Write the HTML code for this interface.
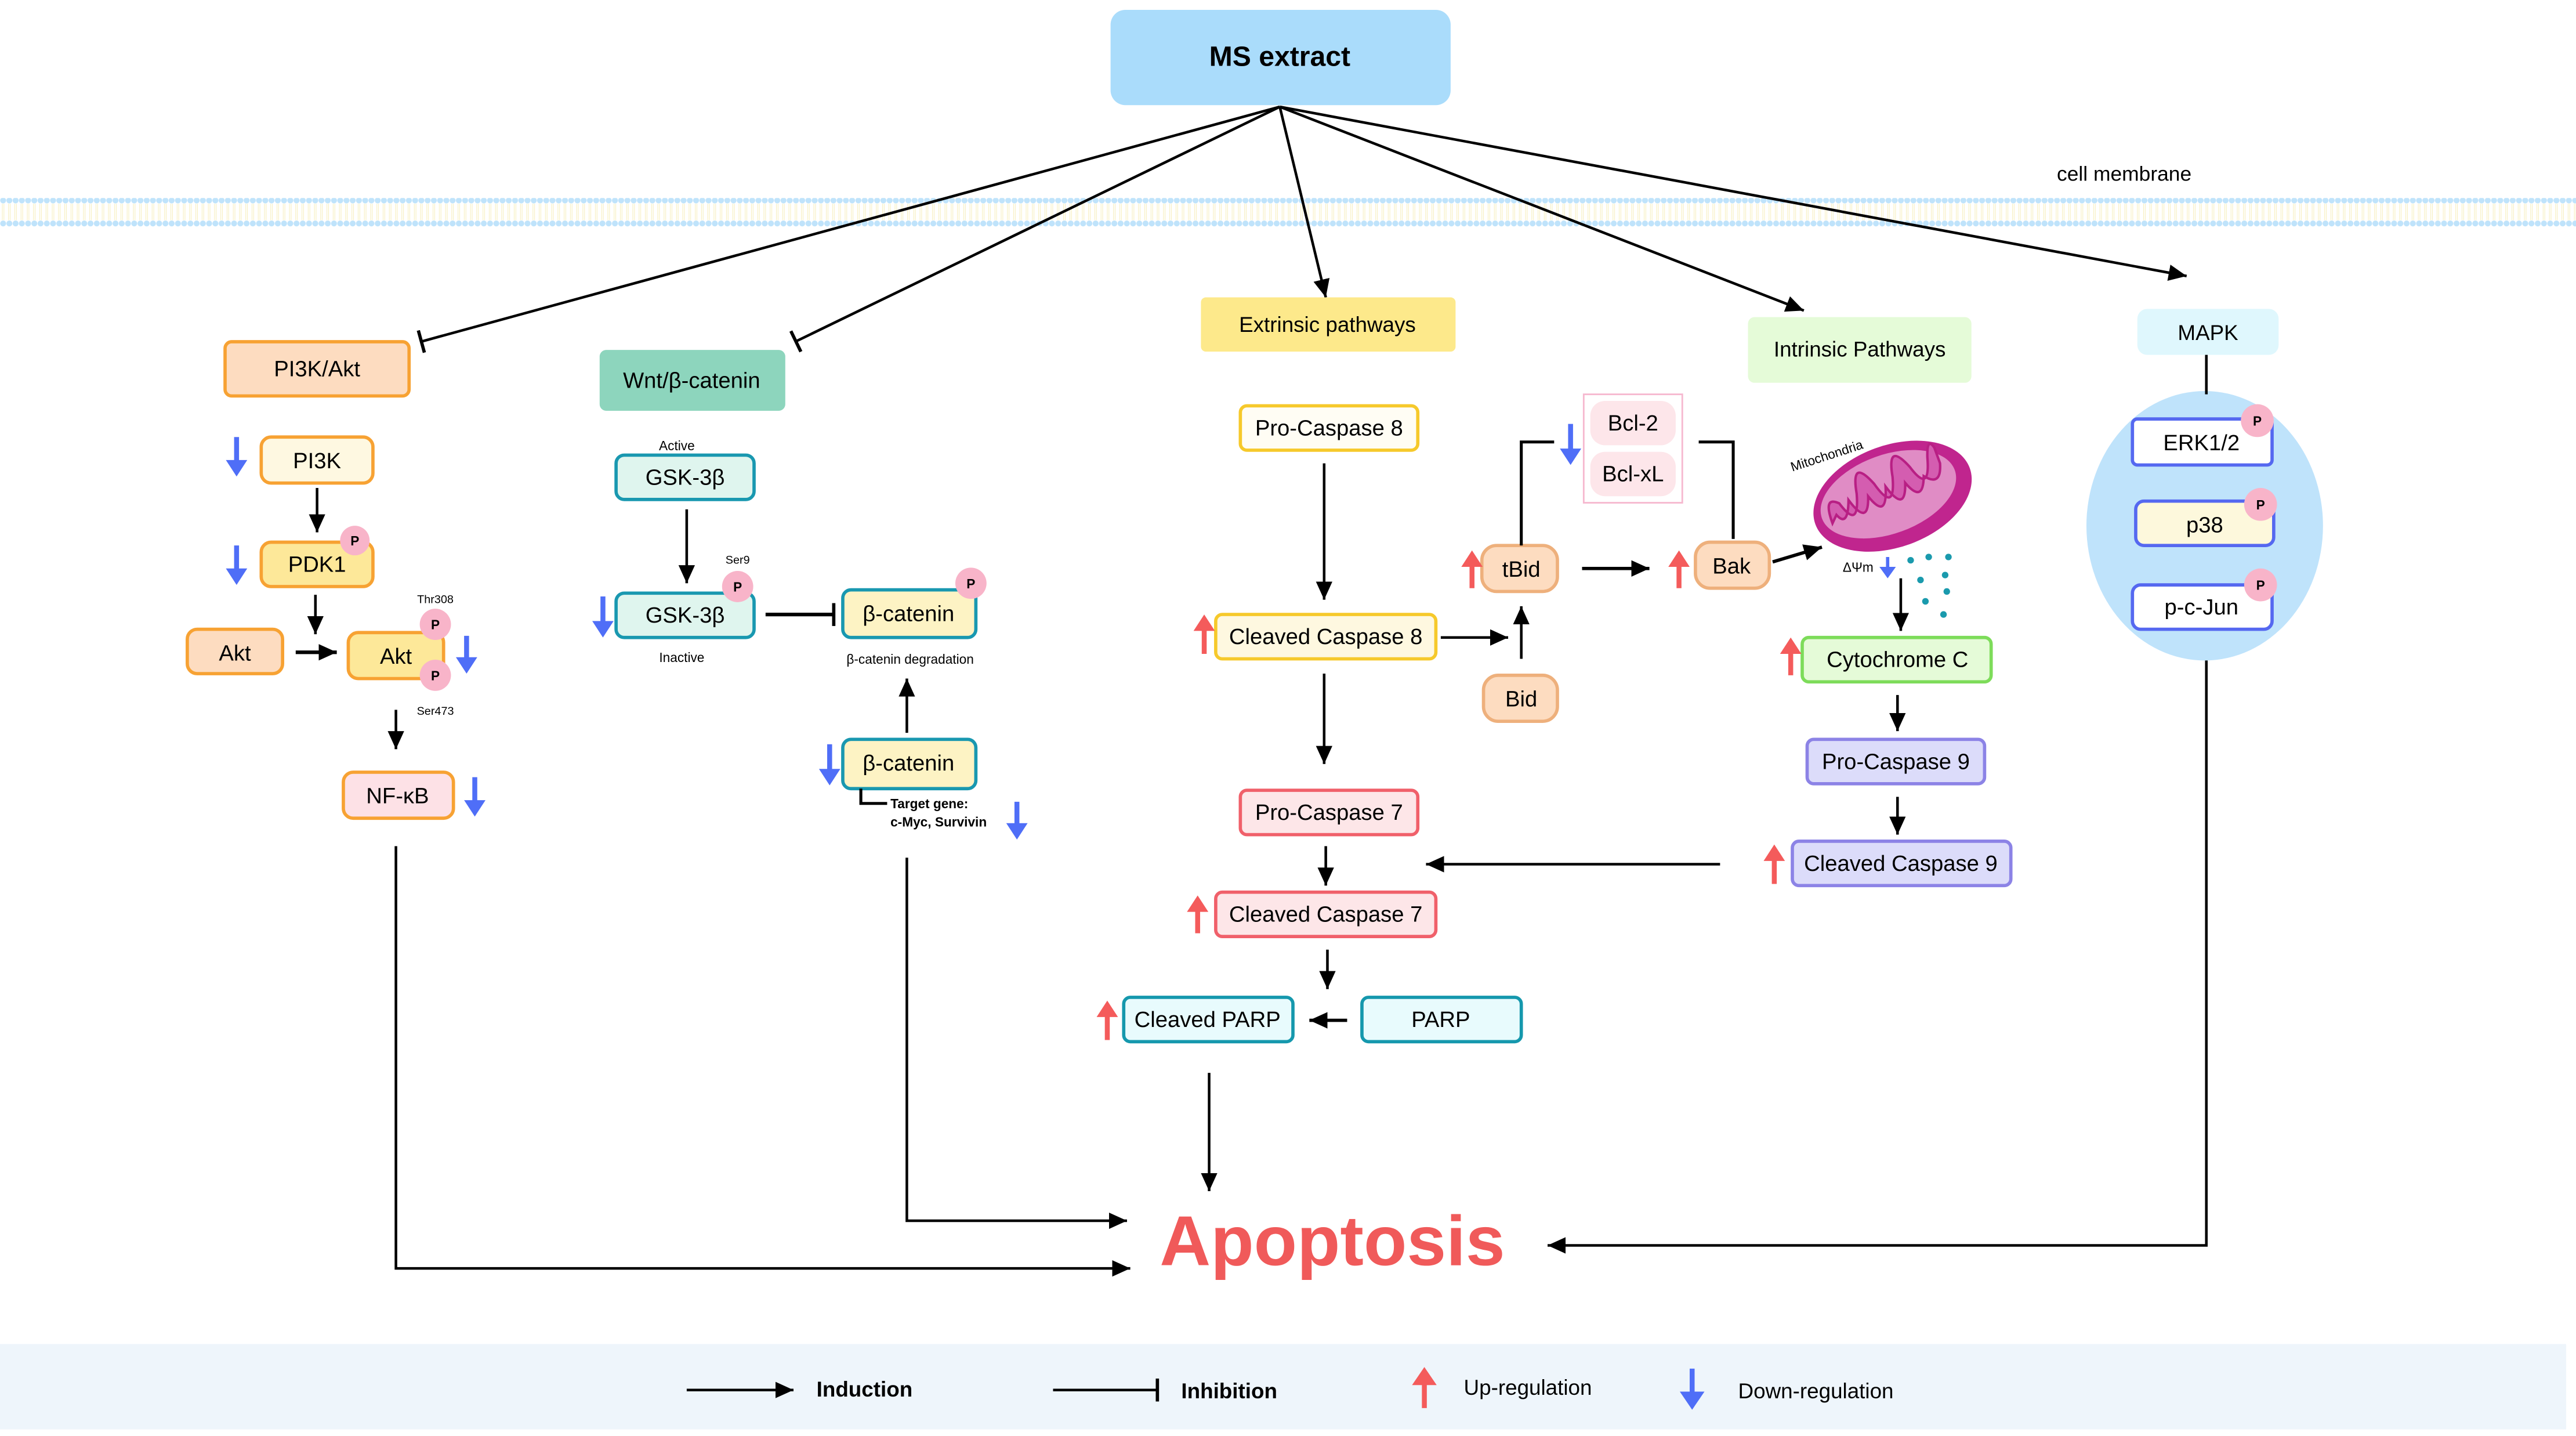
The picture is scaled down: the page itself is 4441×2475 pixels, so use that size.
<!DOCTYPE html>
<html><head><meta charset="utf-8"><style>
html,body{margin:0;padding:0;background:#fff;}
svg{display:block;}
text{font-family:"Liberation Sans",sans-serif;}
</style></head><body>
<svg width="4441" height="2475" viewBox="0 0 1568 874" preserveAspectRatio="none" xmlns="http://www.w3.org/2000/svg">
<defs>
<marker id="ar" markerUnits="userSpaceOnUse" markerWidth="12" markerHeight="12" viewBox="0 0 12 12" refX="11" refY="6" orient="auto"><path d="M0,1 L11,6 L0,11 z" fill="#000"/></marker>
<marker id="tb" markerUnits="userSpaceOnUse" markerWidth="4" markerHeight="14" viewBox="0 0 4 14" refX="2" refY="7" orient="auto"><rect x="0.5" y="0" width="2" height="14" fill="#000"/></marker>
<pattern id="mem" x="0" y="0" width="3.8" height="20" patternUnits="userSpaceOnUse">
<circle cx="1.9" cy="2" r="1.8" fill="#bfe3fb"/><circle cx="1.9" cy="16" r="1.8" fill="#bfe3fb"/>
<line x1="1.4" y1="4" x2="1.4" y2="14" stroke="#f7efc0" stroke-width="0.4"/><line x1="2.4" y1="4" x2="2.4" y2="14" stroke="#f7efc0" stroke-width="0.4"/>
</pattern>
</defs>
<rect width="1568" height="874" fill="#fff"/>
<rect x="0" y="818" width="1562" height="52" fill="#eef5fb"/>
<!-- membrane -->
<rect x="0" y="120.5" width="1568" height="18" fill="url(#mem)"/>
<text x="1293" y="110" font-size="12.5" text-anchor="middle">cell membrane</text>

<!-- MS extract -->
<rect x="676" y="6" width="207" height="58" rx="9" fill="#aadcfb"/>
<text x="779" y="40" font-size="17" font-weight="bold" text-anchor="middle">MS extract</text>
<g stroke="#000" stroke-width="1.6" fill="none">
<line x1="779" y1="65" x2="256" y2="208" marker-end="url(#tb)"/>
<line x1="779" y1="65" x2="484" y2="208" marker-end="url(#tb)"/>
<line x1="779" y1="65" x2="807" y2="181" marker-end="url(#ar)"/>
<line x1="779" y1="65" x2="1098" y2="189" marker-end="url(#ar)"/>
<line x1="779" y1="65" x2="1331" y2="168" marker-end="url(#ar)"/>
</g>

<g font-size="13.5" text-anchor="middle">
<rect x="137" y="208" width="112" height="33" rx="4" fill="#fddcc0" stroke="#f7a233" stroke-width="2"/>
<text x="193" y="229">PI3K/Akt</text>
<rect x="159" y="266" width="68" height="28" rx="6" fill="#fef8e1" stroke="#f7a233" stroke-width="2"/>
<text x="193" y="285">PI3K</text>
<rect x="159" y="330" width="68" height="27" rx="6" fill="#fde899" stroke="#f7a233" stroke-width="2"/>
<text x="193" y="348">PDK1</text>
<rect x="114" y="383" width="58" height="27" rx="6" fill="#fddcc0" stroke="#f7a233" stroke-width="2"/>
<text x="143" y="402">Akt</text>
<rect x="212" y="385" width="58" height="28" rx="6" fill="#fde899" stroke="#f7a233" stroke-width="2"/>
<text x="241" y="404">Akt</text>
<rect x="209" y="470" width="67" height="28" rx="6" fill="#fde1e6" stroke="#f7a233" stroke-width="2"/>
<text x="242" y="489">NF-κB</text>

<rect x="365" y="213" width="113" height="37" rx="4" fill="#8dd5bd"/>
<text x="421" y="236">Wnt/β-catenin</text>
<rect x="375" y="277" width="84" height="27" rx="5" fill="#dff5ee" stroke="#1998b0" stroke-width="2"/>
<text x="417" y="295">GSK-3β</text>
<rect x="375" y="361" width="84" height="27" rx="5" fill="#dff5ee" stroke="#1998b0" stroke-width="2"/>
<text x="417" y="379">GSK-3β</text>
<rect x="513" y="359" width="81" height="29" rx="5" fill="#fdf3c4" stroke="#1998b0" stroke-width="2"/>
<text x="553" y="378">β-catenin</text>
<rect x="513" y="450" width="81" height="30" rx="5" fill="#fdf3c4" stroke="#1998b0" stroke-width="2"/>
<text x="553" y="469">β-catenin</text>

<rect x="731" y="181" width="155" height="33" rx="3" fill="#fde98b"/>
<text x="808" y="202" font-size="13">Extrinsic pathways</text>
<rect x="755" y="247" width="108" height="27" rx="4" fill="#fffdf4" stroke="#f6c92b" stroke-width="2"/>
<text x="809" y="265">Pro-Caspase 8</text>
<rect x="740" y="374" width="134" height="27" rx="4" fill="#fef8e0" stroke="#f6c92b" stroke-width="2"/>
<text x="807" y="392">Cleaved Caspase 8</text>
<rect x="755" y="481" width="108" height="27" rx="4" fill="#fde6e8" stroke="#f0606a" stroke-width="2"/>
<text x="809" y="499">Pro-Caspase 7</text>
<rect x="740" y="543" width="134" height="27" rx="4" fill="#fde6e8" stroke="#f0606a" stroke-width="2"/>
<text x="807" y="561">Cleaved Caspase 7</text>
<rect x="684" y="607" width="103" height="27" rx="4" fill="#e8fbfd" stroke="#1598ad" stroke-width="2"/>
<text x="735" y="625">Cleaved PARP</text>
<rect x="829" y="607" width="97" height="27" rx="4" fill="#e8fbfd" stroke="#1598ad" stroke-width="2"/>
<text x="877" y="625">PARP</text>

<rect x="1064" y="193" width="136" height="40" rx="4" fill="#e5fbd8"/>
<text x="1132" y="217" font-size="13">Intrinsic Pathways</text>
<rect x="964" y="240" width="60" height="66" fill="#fff" stroke="#f6b8cf" stroke-width="1"/>
<rect x="968" y="244" width="52" height="27" rx="9" fill="#fde6ea"/>
<text x="994" y="262">Bcl-2</text>
<rect x="968" y="275" width="52" height="27" rx="9" fill="#fde6ea"/>
<text x="994" y="293">Bcl-xL</text>
<rect x="902" y="332" width="46" height="28" rx="9" fill="#fddcc0" stroke="#eeb07c" stroke-width="2"/>
<text x="926" y="351">tBid</text>
<rect x="903" y="411" width="45" height="28" rx="9" fill="#fddcc0" stroke="#eeb07c" stroke-width="2"/>
<text x="926" y="430">Bid</text>
<rect x="1032" y="330" width="45" height="28" rx="9" fill="#fddcc0" stroke="#eeb07c" stroke-width="2"/>
<text x="1054" y="349">Bak</text>
<rect x="1097" y="388" width="115" height="27" rx="4" fill="#e5fbd8" stroke="#7ddc5a" stroke-width="2"/>
<text x="1155" y="406">Cytochrome C</text>
<rect x="1100" y="450" width="108" height="27" rx="4" fill="#dcdcfa" stroke="#8c83e6" stroke-width="2"/>
<text x="1154" y="468">Pro-Caspase 9</text>
<rect x="1091" y="512" width="133" height="27" rx="4" fill="#dcdcfa" stroke="#8c83e6" stroke-width="2"/>
<text x="1157" y="530">Cleaved Caspase 9</text>

<rect x="1301" y="188" width="86" height="28" rx="6" fill="#dff7fd"/>
<text x="1344" y="207" font-size="13">MAPK</text>
<ellipse cx="1342" cy="320" rx="72" ry="82" fill="#bfe3fb"/>
<rect x="1298" y="255" width="85" height="28" rx="3" fill="#fff" stroke="#5568f0" stroke-width="2"/>
<text x="1340" y="274">ERK1/2</text>
<rect x="1300" y="305" width="84" height="27" rx="5" fill="#fdf8dc" stroke="#5568f0" stroke-width="2"/>
<text x="1342" y="324">p38</text>
<rect x="1298" y="356" width="85" height="27" rx="5" fill="#fff" stroke="#5568f0" stroke-width="2"/>
<text x="1340" y="374">p-c-Jun</text>
</g>

<g fill="#f8b4c9">
<circle cx="216" cy="329" r="9"/><circle cx="265" cy="380" r="9.5"/><circle cx="265" cy="411" r="9.5"/>
<circle cx="449" cy="357" r="9.5"/><circle cx="591" cy="355" r="9.5"/>
<circle cx="1374" cy="256" r="10"/><circle cx="1376" cy="307" r="10"/><circle cx="1376" cy="356" r="10"/>
</g>
<g font-size="8" font-weight="bold" text-anchor="middle">
<text x="216" y="332">P</text><text x="265" y="383">P</text><text x="265" y="414">P</text>
<text x="449" y="360">P</text><text x="591" y="358">P</text>
<text x="1374" y="259">P</text><text x="1376" y="310">P</text><text x="1376" y="359">P</text>
</g>
<g font-size="7" text-anchor="middle">
<text x="265" y="367">Thr308</text><text x="265" y="435">Ser473</text><text x="449" y="343">Ser9</text>
<text x="412" y="274" font-size="8">Active</text><text x="415" y="403" font-size="8">Inactive</text>
<text x="554" y="404" font-size="8">β-catenin degradation</text>
</g>
<g font-size="8" font-weight="bold"><text x="542" y="492">Target gene:</text><text x="542" y="503">c-Myc, Survivin</text></g>

<g stroke="#000" stroke-width="1.6" fill="none">
<line x1="193" y1="297" x2="193" y2="324" marker-end="url(#ar)"/>
<line x1="192" y1="362" x2="192" y2="386" marker-end="url(#ar)"/>
<line x1="180" y1="397" x2="205" y2="397" marker-end="url(#ar)" stroke-width="2.2"/>
<line x1="241" y1="432" x2="241" y2="456" marker-end="url(#ar)"/>
<polyline points="241,515 241,772 688,772" marker-end="url(#ar)"/>
<line x1="418" y1="310" x2="418" y2="355" marker-end="url(#ar)"/>
<line x1="466" y1="374" x2="508" y2="374" marker-end="url(#tb)" stroke-width="2.2"/>
<line x1="552" y1="446" x2="552" y2="413" marker-end="url(#ar)"/>
<polyline points="524,480 524,489 540,489" stroke-width="1.8"/>
<polyline points="552,522 552,743 686,743" marker-end="url(#ar)"/>
<line x1="806" y1="282" x2="806" y2="365" marker-end="url(#ar)"/>
<line x1="877" y1="388" x2="918" y2="388" marker-end="url(#ar)"/>
<line x1="806" y1="410" x2="806" y2="465" marker-end="url(#ar)"/>
<line x1="807" y1="515" x2="807" y2="539" marker-end="url(#ar)"/>
<line x1="808" y1="578" x2="808" y2="602" marker-end="url(#ar)"/>
<line x1="820" y1="621" x2="797" y2="621" marker-end="url(#ar)" stroke-width="2"/>
<line x1="736" y1="653" x2="736" y2="725" marker-end="url(#ar)"/>
<line x1="1047" y1="526" x2="868" y2="526" marker-end="url(#ar)"/>
<polyline points="926,332 926,269 946,269" stroke-width="1.8"/>
<polyline points="1034,269 1055,269 1055,328" stroke-width="1.8"/>
<line x1="926" y1="401" x2="926" y2="369" marker-end="url(#ar)"/>
<line x1="963" y1="346" x2="1004" y2="346" marker-end="url(#ar)" stroke-width="2"/>
<line x1="1079" y1="342" x2="1109" y2="333" marker-end="url(#ar)" stroke-width="2"/>
<line x1="1157" y1="352" x2="1157" y2="384" marker-end="url(#ar)"/>
<line x1="1155" y1="423" x2="1155" y2="445" marker-end="url(#ar)"/>
<line x1="1155" y1="485" x2="1155" y2="508" marker-end="url(#ar)"/>
<line x1="1343" y1="216" x2="1343" y2="240"/>
<polyline points="1343,402 1343,758 942,758" marker-end="url(#ar)"/>
<line x1="418" y1="846" x2="483" y2="846" marker-end="url(#ar)"/>
<line x1="641" y1="846" x2="705" y2="846" marker-end="url(#tb)"/>
</g>

<g transform="rotate(-20 1152 302)">
<ellipse cx="1152" cy="302" rx="50" ry="31" fill="#c0258e"/>
<ellipse cx="1150" cy="300" rx="43" ry="24" fill="#e08cc5"/>
<path d="M1112,305 q0,-18 8,-10 q6,20 12,-2 q4,-22 12,-2 q6,22 12,0 q4,-22 12,-2 q6,20 12,-2 q4,-12 6,-4 l0,10 q-4,14 -12,4 q-6,16 -12,0 q-6,18 -12,-2 q-6,20 -12,2 q-6,18 -12,-2 q-6,16 -10,6 z" fill="#d45db0" stroke="#b81f84" stroke-width="1.5"/>
</g>
<text x="1091" y="287" font-size="8" transform="rotate(-18 1091 287)">Mitochondria</text>
<text x="1131" y="348" font-size="8" text-anchor="middle">ΔΨm</text>
<g fill="#1a9aad">
<circle cx="1163" cy="341" r="2"/><circle cx="1174" cy="339" r="2"/><circle cx="1186" cy="339" r="2"/>
<circle cx="1169" cy="353" r="2"/><circle cx="1184" cy="350" r="2"/><circle cx="1185" cy="360" r="2"/>
<circle cx="1172" cy="366" r="2"/><circle cx="1183" cy="374" r="2"/>
</g>

<text x="811" y="770" font-size="43" font-weight="bold" fill="#f05a5a" text-anchor="middle">Apoptosis</text>

<g fill="#4f6ef7" stroke="none">
<path d="M142.5,266 h3 v14 h5 l-6.5,10 l-6.5,-10 h5 z"/>
<path d="M142.5,332 h3 v14 h5 l-6.5,10 l-6.5,-10 h5 z"/>
<path d="M282.5,387 h3 v13 h5 l-6.5,10 l-6.5,-10 h5 z"/>
<path d="M287.5,473 h3 v14 h5 l-6.5,10 l-6.5,-10 h5 z"/>
<path d="M365.5,363 h3 v15 h5 l-6.5,10 l-6.5,-10 h5 z"/>
<path d="M503.5,453 h3 v15 h5 l-6.5,10 l-6.5,-10 h5 z"/>
<path d="M617.5,488 h3 v13 h5 l-6.5,10 l-6.5,-10 h5 z"/>
<path d="M954.5,258 h3 v15 h5 l-6.5,10 l-6.5,-10 h5 z"/>
<path d="M1148,339 h2 v6 h4 l-5,7 l-5,-7 h4 z"/>
<path d="M1028.5,833 h3 v14 h6 l-7.5,11 l-7.5,-11 h6 z"/>
</g>
<g fill="#f45b5b" stroke="none">
<path d="M731.5,398 h3 v-14 h5 l-6.5,-10 l-6.5,10 h5 z"/>
<path d="M727.5,568 h3 v-13 h5 l-6.5,-10 l-6.5,10 h5 z"/>
<path d="M672.5,633 h3 v-14 h5 l-6.5,-10 l-6.5,10 h5 z"/>
<path d="M894.5,358 h3 v-13 h5 l-6.5,-10 l-6.5,10 h5 z"/>
<path d="M1020.5,358 h3 v-13 h5 l-6.5,-10 l-6.5,10 h5 z"/>
<path d="M1088.5,411 h3 v-13 h5 l-6.5,-10 l-6.5,10 h5 z"/>
<path d="M1078.5,538 h3 v-14 h5 l-6.5,-10 l-6.5,10 h5 z"/>
<path d="M865.5,857 h3 v-14 h6 l-7.5,-11 l-7.5,11 h6 z"/>
</g>

<g font-size="13">
<text x="497" y="850" font-weight="bold">Induction</text>
<text x="719" y="851" font-weight="bold">Inhibition</text>
<text x="891" y="849">Up-regulation</text>
<text x="1058" y="851">Down-regulation</text>
</g>
</svg>
</body></html>
